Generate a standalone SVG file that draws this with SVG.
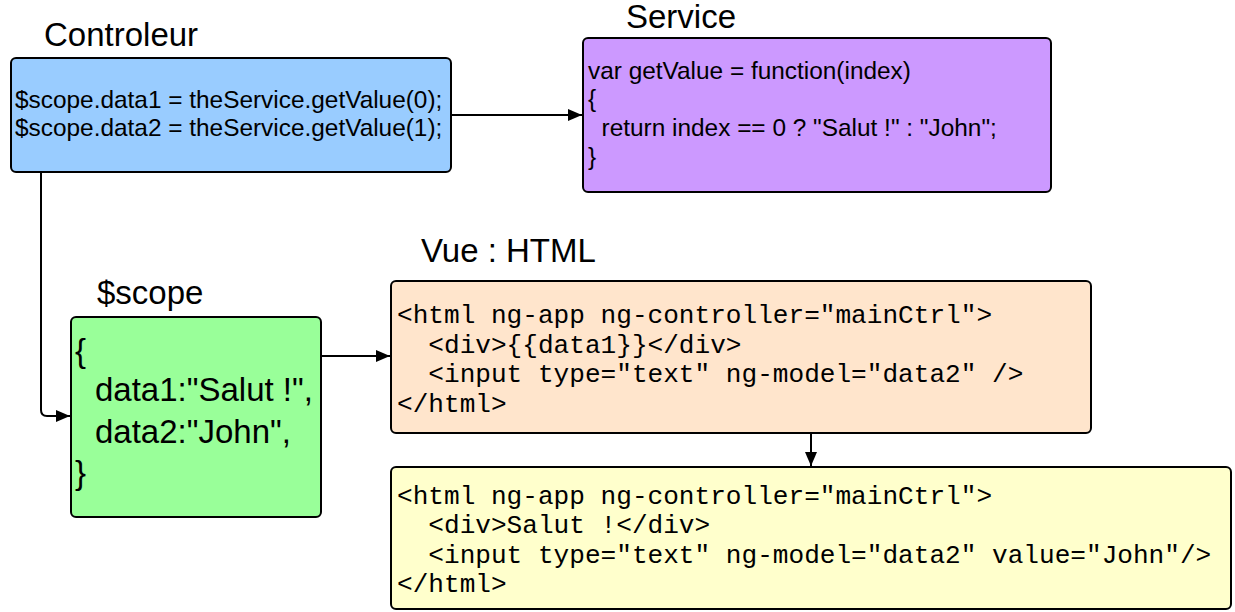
<svg xmlns="http://www.w3.org/2000/svg" width="1235" height="612" viewBox="0 0 1235 612">
  <style>
    .box { stroke: #000; stroke-width: 2; }
    .title { font-family: "Liberation Sans", Arial, sans-serif; font-size: 33px; fill: #000; }
    .code { font-family: "Liberation Sans", Arial, sans-serif; font-size: 24.4px; fill: #000; }
    .big { font-family: "Liberation Sans", Arial, sans-serif; font-size: 33px; fill: #000; }
    .mono { font-family: "Liberation Mono", "Courier New", monospace; font-size: 26.1px; fill: #000; }
    .link { fill: none; stroke: #000; stroke-width: 2; }
  </style>
  <defs>
    <marker id="arrow" viewBox="0 0 14 12" refX="14" refY="6" markerWidth="14" markerHeight="12" markerUnits="userSpaceOnUse" orient="auto">
      <path d="M0,0 L14,6 L0,12 Z" fill="#000"/>
    </marker>
  </defs>
  <rect width="1235" height="612" fill="#fff"/>

  <g id="controleur">
    <text class="title" x="44" y="46">Controleur</text>
    <rect class="box" x="11" y="58" width="440" height="114" rx="5" fill="#99ccff"/>
    <text class="code" x="15" y="108">$scope.data1 = theService.getValue(0);</text>
    <text class="code" x="15" y="136">$scope.data2 = theService.getValue(1);</text>
  </g>

  <g id="service">
    <text class="title" x="626" y="28">Service</text>
    <rect class="box" x="583" y="38" width="468" height="154" rx="5" fill="#cc99ff"/>
    <text class="code" x="588" y="79">var getValue = function(index)</text>
    <text class="code" x="588" y="107">{</text>
    <text class="code" x="588" y="136" xml:space="preserve">  return index == 0 ? "Salut !" : "John";</text>
    <text class="code" x="588" y="165">}</text>
  </g>

  <g id="scope">
    <text class="title" x="97" y="304">$scope</text>
    <rect class="box" x="71" y="317" width="250" height="200" rx="5" fill="#99ff99"/>
    <text class="big" x="75" y="362">{</text>
    <text class="big" x="95" y="401">data1:"Salut !",</text>
    <text class="big" x="95" y="443">data2:"John",</text>
    <text class="big" x="75" y="484">}</text>
  </g>

  <g id="vue">
    <text class="title" x="421" y="262">Vue : HTML</text>
    <rect class="box" x="391" y="281" width="700" height="152" rx="5" fill="#ffe5cc"/>
    <text class="mono" x="397" y="323" xml:space="preserve">&lt;html ng-app ng-controller="mainCtrl"&gt;</text>
    <text class="mono" x="397" y="353" xml:space="preserve">  &lt;div&gt;{{data1}}&lt;/div&gt;</text>
    <text class="mono" x="397" y="382" xml:space="preserve">  &lt;input type="text" ng-model="data2" /&gt;</text>
    <text class="mono" x="397" y="412" xml:space="preserve">&lt;/html&gt;</text>
  </g>

  <g id="rendu">
    <rect class="box" x="391" y="467" width="840" height="142" rx="5" fill="#ffffcc"/>
    <text class="mono" x="397" y="504" xml:space="preserve">&lt;html ng-app ng-controller="mainCtrl"&gt;</text>
    <text class="mono" x="397" y="533" xml:space="preserve">  &lt;div&gt;Salut !&lt;/div&gt;</text>
    <text class="mono" x="397" y="563" xml:space="preserve">  &lt;input type="text" ng-model="data2" value="John"/&gt;</text>
    <text class="mono" x="397" y="592" xml:space="preserve">&lt;/html&gt;</text>
  </g>

  <g id="connectors">
    <path class="link" d="M451,115 L582,115" marker-end="url(#arrow)"/>
    <path class="link" d="M41,172 L41,410 Q41,416 47,416 L70,416" marker-end="url(#arrow)"/>
    <path class="link" d="M321,356 L390,356" marker-end="url(#arrow)"/>
    <path class="link" d="M811,433 L811,466" marker-end="url(#arrow)"/>
  </g>
</svg>
